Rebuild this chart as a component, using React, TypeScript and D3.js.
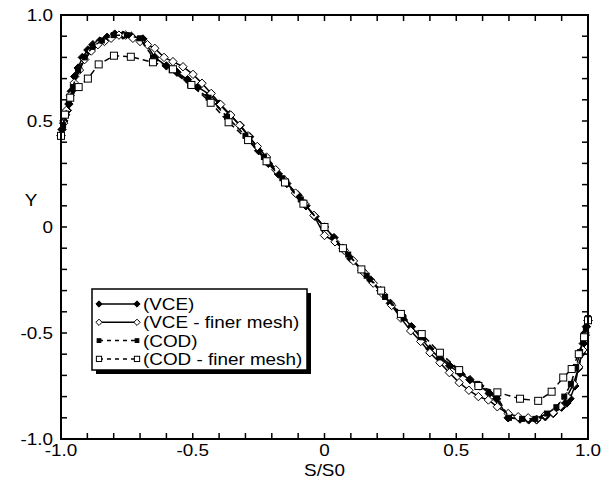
import React from 'react';
import * as d3 from 'd3';

// S/S0 positions and Y values
const vceX = [-1.0, -0.996, -0.989, -0.982, -0.976, -0.97, -0.961, -0.948, -0.935, -0.919, -0.898, -0.879, -0.853, -0.825, -0.796, -0.765, -0.733, -0.689, -0.644, -0.6, -0.56, -0.52, -0.48, -0.436, -0.4, -0.36, -0.32, -0.284, -0.25, -0.213, -0.175, -0.143, -0.1, -0.07, -0.036, 0.0, 0.036, 0.07, 0.1, 0.143, 0.175, 0.213, 0.25, 0.293, 0.33, 0.37, 0.4, 0.438, 0.475, 0.515, 0.552, 0.59, 0.625, 0.653, 0.697, 0.742, 0.775, 0.805, 0.838, 0.868, 0.9, 0.92, 0.932, 0.95, 0.963, 0.976, 0.982, 0.989, 0.994, 1.0];
const vceY = [0.43, 0.46, 0.5, 0.53, 0.55, 0.58, 0.64, 0.71, 0.75, 0.8, 0.835, 0.86, 0.877, 0.895, 0.91, 0.905, 0.9, 0.887, 0.8, 0.76, 0.73, 0.695, 0.66, 0.625, 0.58, 0.53, 0.48, 0.426, 0.36, 0.3, 0.25, 0.205, 0.15, 0.1, 0.05, 0.0, -0.05, -0.1, -0.15, -0.205, -0.25, -0.3, -0.36, -0.415, -0.47, -0.53, -0.575, -0.62, -0.655, -0.69, -0.72, -0.75, -0.785, -0.81, -0.9, -0.906, -0.91, -0.91, -0.895, -0.88, -0.85, -0.83, -0.81, -0.75, -0.667, -0.596, -0.55, -0.5, -0.47, -0.44];

const vceFineX = [-1.0, -0.99, -0.98, -0.965, -0.95, -0.93, -0.91, -0.885, -0.86, -0.835, -0.81, -0.78, -0.755, -0.727, -0.7, -0.672, -0.644, -0.609, -0.575, -0.537, -0.499, -0.465, -0.43, -0.394, -0.356, -0.322, -0.29, -0.255, -0.22, -0.185, -0.15, -0.11, -0.075, -0.04, 0.0, 0.04, 0.075, 0.11, 0.15, 0.185, 0.22, 0.255, 0.29, 0.327, 0.365, 0.4, 0.438, 0.474, 0.511, 0.548, 0.584, 0.622, 0.656, 0.697, 0.735, 0.773, 0.805, 0.837, 0.868, 0.895, 0.92, 0.945, 0.965, 0.98, 0.99, 1.0];
const vceFineY = [0.43, 0.49, 0.55, 0.62, 0.68, 0.74, 0.79, 0.83, 0.86, 0.875, 0.89, 0.905, 0.905, 0.89, 0.875, 0.86, 0.843, 0.8, 0.78, 0.756, 0.72, 0.678, 0.63, 0.578, 0.528, 0.48, 0.43, 0.38, 0.33, 0.27, 0.22, 0.16, 0.11, 0.055, -0.04, -0.07, -0.11, -0.16, -0.215, -0.265, -0.315, -0.37, -0.43, -0.49, -0.54, -0.593, -0.64, -0.687, -0.734, -0.77, -0.8, -0.816, -0.848, -0.88, -0.895, -0.9, -0.907, -0.887, -0.876, -0.845, -0.8, -0.74, -0.66, -0.58, -0.51, -0.44];

const codX = [-1.0, -0.992, -0.982, -0.97, -0.955, -0.935, -0.91, -0.88, -0.845, -0.8, -0.75, -0.7, -0.651, -0.58, -0.51, -0.44, -0.37, -0.3, -0.23, -0.16, -0.09, 0.0, 0.09, 0.16, 0.23, 0.3, 0.37, 0.44, 0.51, 0.58, 0.655, 0.7, 0.75, 0.8, 0.845, 0.88, 0.91, 0.935, 0.955, 0.97, 0.982, 0.992, 1.0];
const codY = [0.43, 0.48, 0.53, 0.59, 0.66, 0.74, 0.8, 0.85, 0.88, 0.905, 0.905, 0.89, 0.8, 0.74, 0.67, 0.61, 0.52, 0.43, 0.33, 0.23, 0.13, 0.0, -0.13, -0.23, -0.33, -0.43, -0.52, -0.615, -0.675, -0.74, -0.8, -0.9, -0.905, -0.905, -0.88, -0.85, -0.8, -0.74, -0.66, -0.59, -0.53, -0.48, -0.43];

const codFineX = [-1.0, -0.985, -0.965, -0.933, -0.898, -0.857, -0.799, -0.735, -0.651, -0.575, -0.505, -0.432, -0.364, -0.29, -0.22, -0.15, -0.08, 0.0, 0.07, 0.14, 0.215, 0.29, 0.369, 0.438, 0.511, 0.584, 0.656, 0.742, 0.811, 0.862, 0.906, 0.938, 0.965, 0.985, 1.0];
const codFineY = [0.43, 0.53, 0.61, 0.66, 0.7, 0.767, 0.808, 0.803, 0.777, 0.744, 0.67, 0.586, 0.494, 0.41, 0.31, 0.21, 0.11, 0.0, -0.1, -0.2, -0.3, -0.41, -0.505, -0.593, -0.675, -0.75, -0.78, -0.81, -0.82, -0.777, -0.71, -0.67, -0.6, -0.52, -0.44];

const seriesNames = ['(VCE)', '(VCE - finer mesh)', '(COD)', '(COD - finer mesh)'];
const xTickLabels = ['-1.0', '-0.5', '0', '0.5', '1.0'];
const yTickLabels = ['-1.0', '-0.5', '0', '0.5', '1.0'];

type Marker = 'diamondFilled' | 'diamondOpen' | 'squareFilled' | 'squareOpen';

const Mark = ({ x, y, kind, size = 1 }: { x: number; y: number; kind: Marker; size?: number }) => {
  if (kind === 'diamondFilled' || kind === 'diamondOpen') {
    const r = 4.2 * size;
    const filled = kind === 'diamondFilled';
    return (
      <path
        d={`M${x},${y - r}L${x + r},${y}L${x},${y + r}L${x - r},${y}Z`}
        fill={filled ? '#000' : '#fff'}
        stroke="#000"
        strokeWidth={1}
      />
    );
  }
  const filled = kind === 'squareFilled';
  const s = (filled ? 5 : 7) * size;
  return (
    <rect
      x={x - s / 2}
      y={y - s / 2}
      width={s}
      height={s}
      fill={filled ? '#000' : '#fff'}
      stroke="#000"
      strokeWidth={1}
    />
  );
};

// Arial-like text, a little wider, as in the reference
const Label = ({ x, y, anchor, size, children }: any) => (
  <text
    transform={`translate(${x},${y}) scale(1.18,1)`}
    textAnchor={anchor}
    fontFamily='"Liberation Sans", Arial, sans-serif'
    fontSize={size}
    fill="#000"
  >
    {children}
  </text>
);

export default function App() {
  const width = 601;
  const height = 482;
  const left = 61, right = 588, top = 15, bottom = 439;

  const x = d3.scaleLinear().domain([-1, 1]).range([left, right]);
  const y = d3.scaleLinear().domain([-1, 1]).range([bottom, top]);

  const line = d3.line<[number, number]>()
    .x(d => x(d[0]))
    .y(d => y(d[1]));

  const series = [
    { xs: vceX, ys: vceY, kind: 'diamondFilled' as Marker, dash: undefined },
    { xs: vceFineX, ys: vceFineY, kind: 'diamondOpen' as Marker, dash: undefined },
    { xs: codX, ys: codY, kind: 'squareFilled' as Marker, dash: '6,4' },
    { xs: codFineX, ys: codFineY, kind: 'squareOpen' as Marker, dash: '6,4' },
  ];

  const minor = d3.range(-10, 11).map(i => i / 10);
  const tickLen = 6;

  const legX = 92, legY = 289, legW = 215, legH = 81;

  return (
    <svg width={width} height={height} style={{ position: 'absolute', left: 0, top: 0 }}>
      <rect width={width} height={height} fill="#fff" />

      {/* ticks, pointing inward on all four sides */}
      <g stroke="#000" strokeWidth={1.5}>
        {minor.map(v => (
          <g key={'t' + v}>
            <line x1={x(v)} x2={x(v)} y1={bottom} y2={bottom - tickLen} />
            <line x1={x(v)} x2={x(v)} y1={top} y2={top + tickLen} />
            <line x1={left} x2={left + tickLen} y1={y(v)} y2={y(v)} />
            <line x1={right} x2={right - tickLen} y1={y(v)} y2={y(v)} />
          </g>
        ))}
      </g>

      {series.map((s, i) => {
        const pts = s.xs.map((v, j) => [v, s.ys[j]] as [number, number]);
        return (
          <g key={'s' + i}>
            <path d={line(pts) || ''} fill="none" stroke="#000" strokeWidth={1.5} strokeDasharray={s.dash} />
            {pts.map((p, j) => (
              <Mark key={j} x={x(p[0])} y={y(p[1])} kind={s.kind} />
            ))}
          </g>
        );
      })}

      <rect x={left} y={top} width={right - left} height={bottom - top} fill="none" stroke="#000" strokeWidth={2} />

      {xTickLabels.map(t => (
        <Label key={'x' + t} x={x(+t)} y={bottom + 17} anchor="middle" size={16}>{t}</Label>
      ))}
      {yTickLabels.map(t => (
        <Label key={'y' + t} x={left - 8} y={y(+t) + 6} anchor="end" size={16}>{t}</Label>
      ))}
      <Label x={(left + right) / 2} y={476} anchor="middle" size={16}>S/S0</Label>
      <Label x={31} y={206} anchor="middle" size={16}>Y</Label>

      {/* legend */}
      <rect x={legX + 4} y={legY + 4} width={legW} height={legH} fill="#000" />
      <rect x={legX} y={legY} width={legW} height={legH} fill="#fff" stroke="#000" strokeWidth={1.5} />
      {series.map((s, i) => {
        const ly = legY + 15 + i * 18.3;
        return (
          <g key={'l' + i}>
            <line x1={99} x2={137} y1={ly} y2={ly} stroke="#000" strokeWidth={1.5} strokeDasharray={s.dash ? '4,4' : undefined} />
            <Mark x={99} y={ly} kind={s.kind} size={0.75} />
            <Mark x={137} y={ly} kind={s.kind} size={0.75} />
            <Label x={143} y={ly + 6} anchor="start" size={16}>{seriesNames[i]}</Label>
          </g>
        );
      })}
    </svg>
  );
}
